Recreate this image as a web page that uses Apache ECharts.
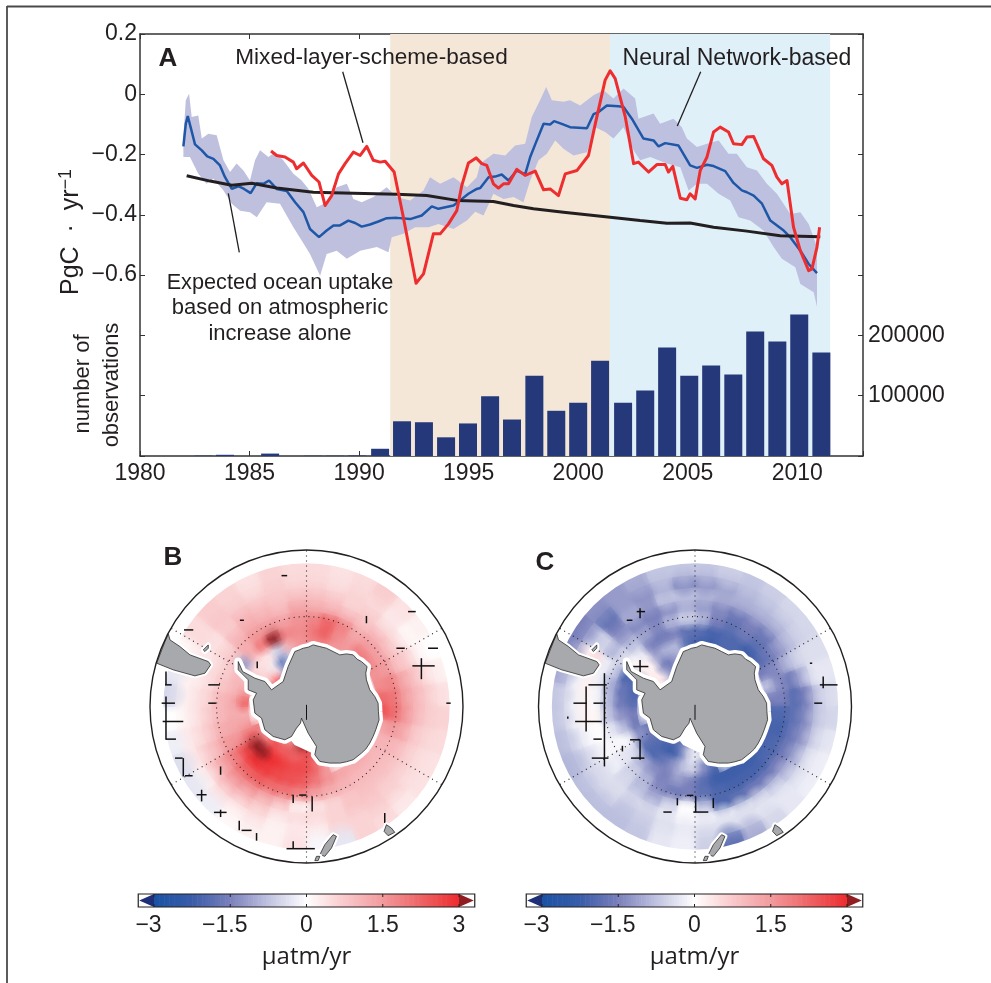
<!DOCTYPE html>
<html><head><meta charset="utf-8">
<style>html,body{margin:0;padding:0;background:#fff}#c{width:991px;height:983px}</style>
<script src="https://cdn.jsdelivr.net/npm/echarts@6/dist/echarts.min.js"></script>
</head><body><div id="c"></div>
<script>
// ---------- Panel A data: [decimal year, PgC/yr] ----------
const nnLine=[[1981.98,-.173],[1982.09,-.098],[1982.18,-.072],[1982.31,-.109],[1982.51,-.166],[1982.82,-.186],[1983.07,-.206],[1983.35,-.214],[1983.65,-.236],[1983.88,-.275],[1984.19,-.314],[1984.49,-.305],[1984.75,-.314],[1985.05,-.328],[1985.33,-.295],[1985.63,-.297],[1985.89,-.286],[1986.24,-.314],[1986.7,-.321],[1987.08,-.358],[1987.46,-.391],[1987.76,-.447],[1988.17,-.474],[1988.52,-.452],[1988.83,-.435],[1989.13,-.435],[1989.51,-.419],[1989.82,-.427],[1990.12,-.439],[1990.5,-.432],[1990.88,-.422],[1991.26,-.411],[1991.72,-.41],[1992.33,-.414],[1992.86,-.402],[1993.32,-.372],[1993.62,-.38],[1994.31,-.369],[1994.61,-.352],[1994.99,-.33],[1995.37,-.314],[1995.53,-.311],[1995.91,-.275],[1996.21,-.273],[1996.51,-.266],[1996.82,-.286],[1997.2,-.253],[1997.58,-.266],[1997.81,-.208],[1998.11,-.153],[1998.42,-.098],[1998.72,-.1],[1998.9,-.089],[1999.25,-.098],[1999.63,-.109],[2000.4,-.113],[2000.7,-.066],[2000.93,-.059],[2001.31,-.037],[2001.84,-.04],[2002.07,-.042],[2002.45,-.081],[2002.98,-.147],[2003.44,-.153],[2003.67,-.173],[2003.97,-.162],[2004.58,-.17],[2005.11,-.236],[2005.42,-.244],[2005.88,-.234],[2006.18,-.238],[2006.71,-.255],[2007.09,-.294],[2007.47,-.319],[2007.7,-.325],[2008.01,-.336],[2008.39,-.363],[2008.77,-.419],[2009.38,-.452],[2009.68,-.474],[2010.14,-.519],[2010.52,-.563],[2010.9,-.593]];
const mlLine=[[1985.98,-.188],[1986.24,-.203],[1986.62,-.208],[1987,-.225],[1987.15,-.247],[1987.46,-.228],[1987.84,-.269],[1988.17,-.291],[1988.45,-.369],[1988.75,-.336],[1989.06,-.264],[1989.36,-.23],[1989.74,-.192],[1990.05,-.203],[1990.35,-.173],[1990.65,-.219],[1990.96,-.225],[1991.19,-.222],[1991.6,-.258],[1992.02,-.408],[1992.6,-.627],[1992.94,-.596],[1993.39,-.463],[1993.7,-.463],[1994.08,-.43],[1994.46,-.386],[1994.69,-.302],[1994.99,-.228],[1995.34,-.211],[1995.6,-.23],[1995.83,-.236],[1996.13,-.297],[1996.36,-.311],[1996.59,-.297],[1996.82,-.297],[1997.2,-.249],[1997.58,-.269],[1998.04,-.255],[1998.42,-.317],[1998.72,-.314],[1999.1,-.336],[1999.41,-.264],[1999.94,-.253],[2000.47,-.203],[2000.78,-.098],[2001.23,.047],[2001.46,.078],[2001.69,.052],[2002.15,-.075],[2002.53,-.23],[2002.75,-.225],[2003.21,-.258],[2003.59,-.233],[2003.97,-.233],[2004.12,-.258],[2004.32,-.239],[2004.66,-.345],[2004.96,-.35],[2005.11,-.33],[2005.34,-.347],[2005.57,-.253],[2005.88,-.208],[2006.18,-.125],[2006.48,-.109],[2006.86,-.125],[2007.09,-.164],[2007.47,-.167],[2007.7,-.142],[2008.01,-.14],[2008.46,-.214],[2008.84,-.236],[2009.07,-.275],[2009.3,-.297],[2009.53,-.286],[2009.83,-.441],[2010.14,-.519],[2010.52,-.585],[2010.67,-.579],[2010.9,-.507],[2011.02,-.441]];
const expectedLine=[[1982.13,-.27],[1983.2,-.288],[1984.19,-.302],[1985.1,-.295],[1986.24,-.311],[1987.91,-.325],[1989.74,-.328],[1991.72,-.332],[1993.09,-.336],[1994.46,-.352],[1996.13,-.356],[1997.05,-.369],[1997.96,-.38],[1999.33,-.391],[2001.46,-.408],[2002.83,-.419],[2004.05,-.428],[2005.11,-.427],[2006.18,-.441],[2007.7,-.454],[2009.22,-.469],[2011.05,-.473]];
const bandUpper=[[1981.98,-.142],[1982.09,-.02],[1982.24,.002],[1982.36,-.075],[1982.66,-.07],[1982.82,-.147],[1983.12,-.131],[1983.5,-.136],[1983.81,-.219],[1984.11,-.258],[1984.41,-.23],[1984.72,-.253],[1985.02,-.286],[1985.25,-.219],[1985.48,-.186],[1985.86,-.208],[1986.16,-.192],[1986.54,-.219],[1987,-.264],[1987.38,-.286],[1987.69,-.314],[1988.07,-.375],[1988.52,-.358],[1988.98,-.308],[1989.44,-.297],[1989.74,-.347],[1990.12,-.358],[1990.65,-.341],[1991.26,-.308],[1991.72,-.341],[1992.33,-.352],[1992.94,-.319],[1993.24,-.275],[1993.7,-.297],[1994.31,-.275],[1994.92,-.308],[1995.37,-.275],[1995.53,-.23],[1996.13,-.197],[1996.67,-.203],[1997.12,-.17],[1997.58,-.164],[1997.88,-.075],[1998.26,-.02],[1998.54,.024],[1998.8,-.02],[1999.33,-.025],[1999.63,-.02],[2000.09,-.037],[2000.7,-.003],[2001.16,.013],[2001.61,-.014],[2002.07,.019],[2002.6,-.014],[2002.75,-.081],[2003.44,-.064],[2003.74,-.098],[2004.35,-.081],[2004.73,-.109],[2004.96,-.147],[2005.42,-.175],[2005.88,-.164],[2006.41,-.153],[2006.86,-.197],[2007.24,-.197],[2007.7,-.242],[2008.16,-.253],[2008.61,-.297],[2009.07,-.33],[2009.68,-.397],[2010.14,-.391],[2010.52,-.43],[2010.9,-.507]];
const bandLower=[[1981.98,-.208],[1982.28,-.208],[1982.66,-.264],[1983.04,-.297],[1983.35,-.28],[1983.81,-.319],[1984.19,-.363],[1984.57,-.386],[1985.02,-.391],[1985.33,-.408],[1985.78,-.358],[1986.39,-.363],[1987,-.441],[1987.38,-.485],[1987.76,-.53],[1988.22,-.602],[1988.52,-.53],[1988.98,-.519],[1989.44,-.546],[1990.05,-.519],[1990.81,-.507],[1991.34,-.524],[1991.49,-.474],[1992.02,-.463],[1992.56,-.441],[1993.17,-.441],[1993.62,-.43],[1994.31,-.447],[1994.92,-.419],[1995.3,-.39],[1995.68,-.402],[1996.13,-.33],[1996.59,-.347],[1997.05,-.341],[1997.5,-.358],[1997.81,-.286],[1998.19,-.219],[1998.57,-.197],[1998.95,-.153],[1999.33,-.181],[1999.79,-.203],[2000.4,-.192],[2000.78,-.109],[2001.23,-.125],[2001.61,-.147],[2002.07,-.109],[2002.53,-.186],[2002.83,-.219],[2003.29,-.208],[2004.05,-.23],[2004.66,-.242],[2005.04,-.319],[2005.42,-.297],[2005.88,-.297],[2006.41,-.33],[2006.94,-.352],[2007.32,-.408],[2007.85,-.419],[2008.46,-.452],[2008.92,-.507],[2009.3,-.546],[2009.91,-.574],[2010.14,-.629],[2010.75,-.657],[2010.9,-.705]];
const periods=[[1991.42,2001.45,'#f4e7d8'],[2001.45,2011.5,'#dff0f9']];
const obsYears=[1982.9,1983.88,1985.94,1987.9,1988.9,1989.9,1990.96,1991.96,1992.96,1993.97,1994.97,1995.98,1996.98,1998,1999,2000,2001,2002.05,2003.06,2004.06,2005.07,2006.07,2007.08,2008.08,2009.09,2010.09,2011.1];
const obsValues=[600,2000,4000,400,400,800,12000,57600,56000,31000,54000,99000,60500,133000,75000,88500,158000,88500,108500,180000,133000,150000,135000,206500,190000,234700,171600];

// ---------- Panels B, C: trend grid, rows = radial band, columns = 10 degree sectors clockwise from north ----------
const _=null;
const ringEdges=[103,141,176,214,249,287,322,357,395,430];
const bRing1=[_,_,_,_,_,_,_,_,_,_,_,_,_,_,_,_,_,2.0,3.3,3.3,1.8,1.6,_,_,_,_,_,_,_,_,.6,2.9,1.0,-1.8,_,_];
const bRing2=[_,_,_,_,_,_,_,_,_,_,_,_,_,_,_,_,_,2.2,2.6,2.2,2.4,2.4,2.6,1.8,1.8,_,_,_,_,_,.6,.5,-.2,-2.0,-.5,_];
const bRing3=[1.8,1.8,1.5,1.5,1.8,_,_,_,_,_,_,_,_,_,_,_,1.5,2.3,2.6,2.6,2.8,3.0,3.3,3.3,2.2,1.4,1.2,2.2,1.4,1.0,.6,.4,.4,-.6,1.2,1.6];
const bRing4=[2.0,2.3,1.7,1.5,1.9,1.8,1.6,1.7,2.2,2.5,1.3,1.1,1.1,1.2,1.2,1.3,1.6,2.0,2.4,2.5,2.6,2.8,2.9,2.6,1.6,1.3,1.2,1.2,1.0,1.0,-1.2,1.2,2.0,3.1,1.8,1.7];
const bRing5=[1.8,2.2,1.8,1.3,1.4,1.4,1.5,1.8,2.0,2.1,1.5,1.1,1.0,1.0,1.0,1.1,1.2,1.4,1.8,2.0,2.1,2.3,2.2,1.9,1.5,1.2,1.0,1.0,.8,.7,.8,1.2,1.5,1.5,1.4,1.6];
const bRing6=[1.2,1.1,1.0,.9,1.0,.9,.9,1.3,1.4,1.5,1.3,1.0,.9,.9,.9,.8,.6,.4,.2,.9,1.2,1.5,1.6,1.4,1.0,.8,.7,.6,.5,.5,.6,1.0,1.2,1.1,1.0,1.3];
const bRing7=[.9,.8,.6,.7,.5,.5,.7,.9,1.0,1.0,.8,.7,.7,.7,.8,.8,.6,.5,.5,.4,.7,.9,1.0,.9,.7,.5,.4,.4,.3,.3,.4,.7,1.0,.9,.8,.9];
const bRing8=[.6,.5,.6,.5,.3,.1,.2,.5,.7,.7,.6,.5,.5,.6,.7,.6,.6,.3,.3,.2,.4,.3,.4,.2,.3,.3,.2,.2,.2,.3,.5,.8,.7,.6,.7,.6];
const bRing9=[.5,.4,.5,.7,.4,.2,0,.2,.4,.6,.5,.4,.4,.3,.5,.6,-.3,-.1,.4,.2,.2,.1,-.2,-.3,-.4,-.2,0,-.5,-.3,.1,.5,.7,.6,.4,.6,.5];
const cRing1=[_,_,_,_,_,_,_,_,_,_,_,_,_,_,_,_,_,-.2,-.1,-1.2,-1.8,-1.8,_,_,_,_,_,_,_,_,.3,.3,-1.0,-1.5,_,_];
const cRing2=[_,_,_,_,_,_,_,_,_,_,_,_,_,_,_,_,_,-.8,-.1,-1.0,-2.2,-2.2,-2.0,-1.8,-1.6,_,_,_,_,_,.3,.2,-1.7,-1.5,-1.0,_];
const cRing3=[-2.2,-2.2,-2.0,-2.0,-2.0,_,_,_,_,_,_,_,_,_,_,_,-2.0,-1.3,-.5,-.9,-1.4,-1.8,-2.0,-1.8,-1.2,-1.6,-1.5,-1.9,-2.0,-2.0,.2,.2,-1.2,-.9,-.9,-2.0];
const cRing4=[-1.9,-2.1,-2.0,-2.0,-2.2,-2.0,-1.5,-.8,-1.5,-2.0,-2.1,-2.1,-2.1,-2.2,-2.2,-2.2,-2.2,-1.9,-1.5,-1.2,-1.5,-1.3,-1.0,-.4,-.1,-.8,-1.3,-1.6,-1.7,-2.0,.1,-.3,-1.5,-1.6,-1.5,-1.8];
const cRing5=[-.9,-1.5,-1.8,-1.6,-1.8,-1.7,-1.4,-1.4,-1.5,-2.0,-2.1,-2.0,-2.0,-2.1,-2.1,-2.1,-2.0,-1.8,-1.5,-1.6,-1.4,-.9,-.6,-.3,-.1,-.3,-.7,-.8,-.9,-.6,-.5,-.8,-1.1,-1.4,-.9,-.6];
const cRing6=[-1.2,-1.4,-1.6,-1.5,-1.6,-1.3,-1.0,-1.6,-1.9,-1.8,-1.7,-1.6,-1.5,-1.6,-1.6,-1.8,-2.0,-.8,0,-.6,-1.0,-.8,-.5,-.2,-.1,0,.1,-.1,-.2,-.2,-.9,-1.2,-1.4,-1.5,-1.3,-1.0];
const cRing7=[-.9,-1.0,-1.0,-1.0,-1.0,-.9,-.6,-1.0,-1.5,-1.4,-1.3,-1.1,-.9,-.7,-.5,-.4,-.3,-.2,-.1,-.3,-.5,-.5,-.4,-.4,-.3,-.1,.2,.2,.2,.5,-.5,-1.5,-1.0,-1.2,-.7,-.8];
const cRing8=[-1.3,-1.1,-.9,-.8,-.7,-.6,-.4,-.3,-.7,-.7,-.6,-.4,-.4,-.3,-.3,-.4,-.4,-.4,-.3,-.4,-.6,-.7,-.5,-.5,-.6,-.4,-.2,-.2,-.2,.2,-.8,-1.8,-1.2,-1.3,-1.0,-1.4];
const cRing9=[-.7,-.6,-.7,-.6,-.5,-.5,-.4,-.3,-.4,-.5,-.3,-.2,-.2,-.3,-.5,-1.0,-1.8,-.6,-.2,-.3,-.7,-.8,-.8,-.8,-.9,-.8,-.7,-.7,-1.0,-1.4,-1.5,-1.3,-1.2,-1.0,-.7,-.7];
const mapB=[bRing1,bRing2,bRing3,bRing4,bRing5,bRing6,bRing7,bRing8,bRing9];
const mapC=[cRing1,cRing2,cRing3,cRing4,cRing5,cRing6,cRing7,cRing8,cRing9];

// map outlines in map units (outer circle radius 470)
const mapRadius=470, dataRadius=430, latCircles=[270], meridians=[0,60,120,180,240,300];
const antarctica=[[-35,165],[-22,170],[-10,175],[5,178],[20,185],[40,180],[60,175],[80,165],[100,155],[120,158],[140,155],[152,142],[165,135],[182,120],[178,100],[180,80],[190,50],[205,30],[215,10],[216,-15],[218,-40],[208,-70],[200,-90],[190,-110],[178,-128],[165,-140],[140,-160],[120,-166],[100,-170],[70,-170],[40,-165],[25,-145],[30,-120],[5,-80],[-15,-35],[-18,-50],[-30,-65],[-45,-90],[-65,-100],[-100,-90],[-125,-70],[-135,-35],[-155,-20],[-160,20],[-150,40],[-175,50],[-175,80],[-205,110],[-205,135],[-192,105],[-155,85],[-125,75],[-105,50],[-70,75],[-55,120]];
const southAmerica=[[-415,218],[-410,200],[-380,180],[-350,155],[-295,135],[-288,125],[-305,100],[-335,92],[-400,110],[-450,130],[-425,195]];
const newZealand=[[80,-385],[90,-390],[75,-425],[55,-450],[40,-445],[55,-415]];
const newZealandS=[[30,-450],[40,-450],[35,-463],[25,-463]];
const tasmania=[[240,-355],[255,-365],[265,-378],[245,-388],[233,-375]];
const falklands=[[-310,170],[-295,185],[-295,175],[-305,165]];
const rossIce=[[-15,-35],[5,-80],[30,-110],[28,-135],[-30,-108],[-45,-90]];
const landPolygons=[antarctica,southAmerica,newZealand,newZealandS,tasmania,falklands];
const poleMark=[[0,5],[0,-40]];
// sparse black crosses [x1,y1,x2,y2] in map units
const bMarks=[[-368,230,-340,230],[-75,393,-58,393],[-200,259,-188,259],[305,285,328,285],[270,175,295,175],[365,175,395,175],[318,122,385,122],[420,10,433,10],[-295,65,-260,65],[-295,10,-272,10],[-425,65,-405,65],[-435,10,-395,10],[-432,-45,-370,-45],[-422,-98,-392,-98],[-395,-155,-372,-155],[-365,-208,-342,-208],[-330,-265,-300,-265],[-278,-318,-240,-318],[-195,-372,-165,-372],[-60,-427,25,-427],[-22,-266,0,-266],[-422,105,-422,65],[-422,30,-422,-100],[-370,-155,-370,-210],[-258,-180,-258,-205],[-315,-250,-315,-285],[-258,-310,-258,-332],[-202,-343,-202,-372],[-150,-380,-150,-403],[-40,-265,-40,-290],[17,-270,17,-315],[-40,-405,-40,-427],[180,272,180,250],[345,145,345,82],[235,-320,235,-350],[-148,135,-148,115],[-200,140,-200,100]];
const cMarks=[[-205,259,-188,259],[-175,285,-150,285],[-195,120,-140,120],[-320,65,-265,65],[-365,10,-325,10],[-305,10,-275,10],[-360,-45,-280,-45],[-305,-98,-280,-98],[-195,-100,-165,-100],[-310,-155,-260,-155],[-192,-155,-152,-155],[-95,-317,-70,-317],[-5,-317,40,-317],[-25,-267,-5,-267],[375,65,428,65],[358,10,382,10],[345,130,352,130],[-165,295,-165,265],[-165,140,-165,95],[-327,60,-327,-75],[-272,100,-272,-180],[-165,-100,-165,-160],[-218,-118,-218,-135],[-382,-30,-382,-37],[-53,-275,-53,-297],[2,-270,2,-317],[55,-275,55,-305],[385,90,385,55]];

// colour scale
const colourStops=[[-3,[26,82,164]],[-2.25,[58,92,168]],[-1.5,[122,128,187]],[-.75,[192,195,224]],[0,[255,255,255]],[.75,[249,201,203]],[1.5,[242,154,157]],[2.25,[238,100,102]],[3,[238,44,47]]];
const overColour='#8f1d22', underColour='#1e2f78';
const barTicks=[-3,-1.5,0,1.5,3];

function toColour(v){
  if(v>3) return overColour; if(v<-3) return underColour;
  for(let i=1;i<colourStops.length;i++){
    const a=colourStops[i-1],b=colourStops[i];
    if(v<=b[0]){const t=(v-a[0])/(b[0]-a[0]);
      return 'rgb('+a[1].map((c,k)=>Math.round(c+(b[1][k]-c)*t)).join(',')+')';}
  }
  return overColour;
}
function softColour(v,alpha){
  const c=echarts.color.parse(toColour(v));
  return 'rgba('+c[0]+','+c[1]+','+c[2]+','+alpha+')';
}
const fmtMinus=v=>String(v).replace('-','\u2212');
const ink='#231f20', axisInk='#333333';
const font='"Liberation Sans",Arial,sans-serif';

function axisHidden(i){return {type:'value',gridIndex:i,min:-mapRadius,max:mapRadius,show:false};}
function cells(rows){const out=[];rows.forEach((row,r)=>row.forEach((v,s)=>{if(v!==null)out.push([r,s,v]);}));return out;}

function heatSeries(k,rows){
  return {type:'custom',xAxisIndex:k,yAxisIndex:k,z:2,silent:true,data:cells(rows),animation:false,
    renderItem(p,api){
      const r=api.value(0),s=api.value(1),v=api.value(2),pts=[];
      const r0=ringEdges[r],r1=ringEdges[r+1];
      for(let j=0;j<=4;j++){const t=(s+j/4)*10*Math.PI/180;pts.push(api.coord([r1*Math.sin(t),r1*Math.cos(t)]));}
      for(let j=4;j>=0;j--){const t=(s+j/4)*10*Math.PI/180;pts.push(api.coord([r0*Math.sin(t),r0*Math.cos(t)]));}
      const col=toColour(v);
      return {type:'polygon',shape:{points:pts},style:{fill:col,stroke:col,lineWidth:1}};
    }};
}
// soft second pass: each cell's own colour fades out across its edges, so neighbouring cells blend as in the reference
function softenSeries(k,rows){
  return {type:'custom',xAxisIndex:k,yAxisIndex:k,z:2,silent:true,data:cells(rows),animation:false,
    renderItem(p,api){
      const r=api.value(0),s=api.value(1),v=api.value(2),scale=api.size([1,0])[0];
      const rm=(ringEdges[r]+ringEdges[r+1])/2,t=(s+.5)*10*Math.PI/180,c=api.coord([rm*Math.sin(t),rm*Math.cos(t)]);
      const R=Math.max(42,rm*.17*.8)*scale;
      return {type:'circle',shape:{cx:c[0],cy:c[1],r:R},style:{fill:{type:'radial',x:.5,y:.5,r:.5,colorStops:[
        {offset:0,color:softColour(v,.8)},{offset:.55,color:softColour(v,.5)},{offset:1,color:softColour(v,0)}]}}};
    }};
}
function mapFrame(k){
  return {type:'custom',xAxisIndex:k,yAxisIndex:k,z:3,silent:true,data:[[0,0]],animation:false,
    renderItem(p,api){
      const c=api.coord([0,0]),scale=api.size([1,0])[0],ch=[];
      ch.push({type:'ring',shape:{cx:c[0],cy:c[1],r0:dataRadius*scale,r:mapRadius*scale+12},style:{fill:'#fff'}});
      latCircles.forEach(r=>ch.push({type:'circle',shape:{cx:c[0],cy:c[1],r:r*scale},style:{fill:null,stroke:'#222',lineWidth:1.1,lineDash:[1,4]}}));
      meridians.forEach(a=>{const t=a*Math.PI/180,e=api.coord([mapRadius*Math.sin(t),mapRadius*Math.cos(t)]);
        ch.push({type:'line',shape:{x1:c[0],y1:c[1],x2:e[0],y2:e[1]},style:{stroke:'#222',lineWidth:1.1,lineDash:[1,4]}});});
      return {type:'group',children:ch};
    }};
}
function markSeries(k,marks){
  return {type:'custom',xAxisIndex:k,yAxisIndex:k,z:4,silent:true,data:marks,animation:false,
    renderItem(p,api){
      const a=api.coord([api.value(0),api.value(1)]),b=api.coord([api.value(2),api.value(3)]);
      return {type:'line',shape:{x1:a[0],y1:a[1],x2:b[0],y2:b[1]},style:{stroke:'#111',lineWidth:1.5}};
    }};
}
function landSeries(k){
  return {type:'custom',xAxisIndex:k,yAxisIndex:k,z:5,silent:true,data:landPolygons.map((_p,i)=>[i,0]),animation:false,
    renderItem(p,api){
      const i=api.value(0),pts=landPolygons[i].map(q=>api.coord(q)),ch=[];
      if(i===0) ch.push({type:'polygon',shape:{points:rossIce.map(q=>api.coord(q))},style:{fill:'#fff',stroke:'#fff',lineWidth:6}});
      ch.push({type:'polygon',shape:{points:pts},style:{fill:'#fff',stroke:'#fff',lineWidth:i===0?8:5,lineJoin:'round'}});
      ch.push({type:'polygon',shape:{points:pts},style:{fill:'#a7a9ac',stroke:'#2b2b2b',lineWidth:.8}});
      if(i===0){const a=api.coord(poleMark[0]),b=api.coord(poleMark[1]);
        ch.push({type:'line',shape:{x1:a[0],y1:a[1],x2:b[0],y2:b[1]},style:{stroke:'#111',lineWidth:1}});}
      return {type:'group',children:ch};
    }};
}
function outerCircle(k){
  return {type:'custom',xAxisIndex:k,yAxisIndex:k,z:6,silent:true,data:[[0,0]],animation:false,
    renderItem(p,api){const c=api.coord([0,0]);
      return {type:'circle',shape:{cx:c[0],cy:c[1],r:mapRadius*api.size([1,0])[0]},style:{fill:null,stroke:'#231f20',lineWidth:1.4}};}};
}
function colourBar(k){
  const steps=[];for(let i=0;i<120;i++)steps.push([-3+i*.05]);
  return [{type:'custom',xAxisIndex:k,yAxisIndex:k,z:2,silent:true,data:steps,animation:false,
    renderItem(p,api){const v=api.value(0),a=api.coord([v,1]),b=api.coord([v+.05,0]);
      return {type:'rect',shape:{x:a[0],y:a[1],width:b[0]-a[0]+.6,height:b[1]-a[1]},style:{fill:toColour(v+.025)}};}},
   {type:'custom',xAxisIndex:k,yAxisIndex:k,z:3,silent:true,data:[[0]],animation:false,
    renderItem(p,api){
      const L=api.coord([-3.31,1]),R=api.coord([3.31,0]),l=api.coord([-3,.5])[0],r=api.coord([3,.5])[0],my=(L[1]+R[1])/2;
      const ch=[
        {type:'polygon',shape:{points:[[l,L[1]],[L[0]+1,my],[l,R[1]]]},style:{fill:underColour}},
        {type:'polygon',shape:{points:[[r,L[1]],[R[0]-1,my],[r,R[1]]]},style:{fill:overColour}},
        {type:'rect',shape:{x:L[0],y:L[1],width:R[0]-L[0],height:R[1]-L[1]},style:{fill:null,stroke:'#231f20',lineWidth:1.2}}];
      barTicks.forEach(t=>{const x=api.coord([t,0])[0];
        ch.push({type:'line',shape:{x1:x,y1:L[1],x2:x,y2:L[1]+3},style:{stroke:'#222',lineWidth:1}});
        ch.push({type:'line',shape:{x1:x,y1:R[1],x2:x,y2:R[1]-3},style:{stroke:'#222',lineWidth:1}});});
      return {type:'group',children:ch};
    }}];
}
function barAxis(i){return {type:'value',gridIndex:i,min:-3,max:3,interval:1.5,
  axisLine:{show:false,onZero:false},axisTick:{show:false},splitLine:{show:false},
  axisLabel:{color:ink,fontFamily:font,fontSize:23,margin:7,showMinLabel:true,showMaxLabel:true,
    formatter:v=>v<0?'{neg|'+fmtMinus(v)+'}':String(v),
    rich:{neg:{color:ink,fontFamily:font,fontSize:23,padding:[0,11,0,0]}}},
  name:'\u00b5atm/yr',nameLocation:'middle',nameGap:38,nameTextStyle:{color:ink,fontFamily:'"Open Sans",sans-serif',fontSize:24}};}
function barY(i){return {type:'value',gridIndex:i,min:0,max:1,show:false};}

const txt=(text,x,y,o={})=>({type:'text',x,y,silent:true,z:30,rotation:o.rot||0,
  style:Object.assign({text,fill:ink,font:(o.weight||'normal')+' '+(o.size||22)+'px '+font,align:o.align||'center',verticalAlign:'middle'},o.style||{})});
const seg=(x1,y1,x2,y2,w=1.3,col=ink)=>({type:'line',silent:true,z:30,shape:{x1,y1,x2,y2},style:{stroke:col,lineWidth:w}});

const option={
  animation:false,backgroundColor:'#fff',
  grid:[{left:140,top:34,width:723,height:422},
        {left:150,top:550,width:313,height:313},
        {left:538.5,top:550,width:313,height:313},
        {left:154,top:894,width:305,height:13},
        {left:542,top:894,width:305,height:13}],
  xAxis:[
    {type:'value',gridIndex:0,min:1980,max:2013,interval:5,position:'bottom',
      axisLine:{onZero:false,lineStyle:{color:axisInk,width:1.5}},axisTick:{inside:true,length:5,lineStyle:{color:axisInk}},splitLine:{show:false},
      axisLabel:{color:ink,fontFamily:font,fontSize:23,margin:6,formatter:v=>v%5===0?String(v):''}},
    {type:'value',gridIndex:0,min:1980,max:2013,interval:5,position:'top',
      axisLine:{onZero:false,lineStyle:{color:axisInk,width:1.5}},axisTick:{inside:true,length:5,lineStyle:{color:axisInk}},splitLine:{show:false},axisLabel:{show:false}},
    axisHidden(1),axisHidden(2),barAxis(3),barAxis(4)],
  yAxis:[
    {type:'value',gridIndex:0,min:-1.2,max:.2,interval:.2,position:'left',
      axisLine:{onZero:false,lineStyle:{color:axisInk,width:1.5}},axisTick:{inside:true,length:5,lineStyle:{color:axisInk}},splitLine:{show:false},
      axisLabel:{color:ink,fontFamily:font,fontSize:23,margin:3,padding:[4,0,0,0],formatter:v=>v>-.61?fmtMinus(+v.toFixed(1)):''}},
    {type:'value',gridIndex:0,min:0,max:700000,interval:100000,position:'right',
      axisLine:{onZero:false,lineStyle:{color:axisInk,width:1.5}},axisTick:{inside:true,length:5,lineStyle:{color:axisInk}},splitLine:{show:false},
      axisLabel:{color:ink,fontFamily:font,fontSize:23,margin:5,padding:[2,0,0,0],formatter:v=>(v===100000||v===200000)?String(v):''}},
    {type:'value',gridIndex:1,min:-mapRadius,max:mapRadius,show:false},
    {type:'value',gridIndex:2,min:-mapRadius,max:mapRadius,show:false},
    barY(3),barY(4)],
  series:[
    {type:'custom',xAxisIndex:0,yAxisIndex:0,z:1,silent:true,data:periods.map(p=>[p[0],p[1]]),
      renderItem(p,api){const i=p.dataIndex,a=api.coord([api.value(0),.2]),b=api.coord([api.value(1),-1.2]);
        return {type:'rect',shape:{x:a[0],y:a[1],width:b[0]-a[0],height:b[1]-a[1]},style:{fill:periods[i][2]}};}},
    {type:'bar',name:'number of observations',xAxisIndex:0,yAxisIndex:1,z:2,barWidth:18,silent:true,
      data:obsYears.map((y,i)=>[y,obsValues[i]]),itemStyle:{color:'#25387a'}},
    {type:'custom',xAxisIndex:0,yAxisIndex:0,z:3,silent:true,data:[[1982,0]],
      renderItem(p,api){const pts=bandUpper.concat(bandLower.slice().reverse()).map(q=>api.coord(q));
        return {type:'polygon',shape:{points:pts},style:{fill:'#bcbedd',opacity:.97}};}},
    {type:'line',name:'Neural Network-based',xAxisIndex:0,yAxisIndex:0,z:4,data:nnLine,showSymbol:false,silent:true,lineStyle:{color:'#1f57a8',width:2.5}},
    {type:'line',name:'Expected',xAxisIndex:0,yAxisIndex:0,z:5,data:expectedLine,showSymbol:false,silent:true,lineStyle:{color:'#231f20',width:3}},
    {type:'line',name:'Mixed-layer-scheme-based',xAxisIndex:0,yAxisIndex:0,z:6,data:mlLine,showSymbol:false,silent:true,lineStyle:{color:'#ee2d2f',width:3,join:'round'}},
    heatSeries(2,mapB),softenSeries(2,mapB),mapFrame(2),markSeries(2,bMarks),landSeries(2),outerCircle(2),
    heatSeries(3,mapC),softenSeries(3,mapC),mapFrame(3),markSeries(3,cMarks),landSeries(3),outerCircle(3),
    ...colourBar(4),...colourBar(5)
  ],
  graphic:[
    seg(7,6.5,991,6.5,1.8,'#4a4a4a'),seg(7,6,7,983,1.8,'#4a4a4a'),
    txt('A',168,59,{size:26,weight:'bold'}),
    txt('B',173,558,{size:26,weight:'bold'}),
    txt('C',545,563,{size:26,weight:'bold'}),
    txt('Mixed-layer-scheme-based',371.5,58,{size:22.6}),
    txt('Neural Network-based',737,59,{size:23}),
    txt('Expected ocean uptake',280,283,{size:21.7}),
    txt('based on atmospheric',280,308),
    txt('increase alone',280,334),
    seg(342.7,71.7,363,142.7),seg(700.7,71.7,677.3,126),seg(228.3,193.3,239.3,252.3),
    {type:'text',x:71,y:232,rotation:Math.PI/2,silent:true,z:30,style:{text:'{a|PgC  \u00b7  yr}{b|\u22121}',align:'center',verticalAlign:'middle',
      rich:{a:{fontFamily:font,fontSize:25,fill:ink,color:ink},b:{fontFamily:font,fontSize:18,fill:ink,color:ink,verticalAlign:'top',padding:[0,0,10,0]}}}},
    txt('number of',83,384,{rot:Math.PI/2}),
    txt('observations',112,385,{rot:Math.PI/2})
  ]
};
echarts.init(document.getElementById('c'),null,{renderer:'canvas'}).setOption(option);
</script></body></html>
